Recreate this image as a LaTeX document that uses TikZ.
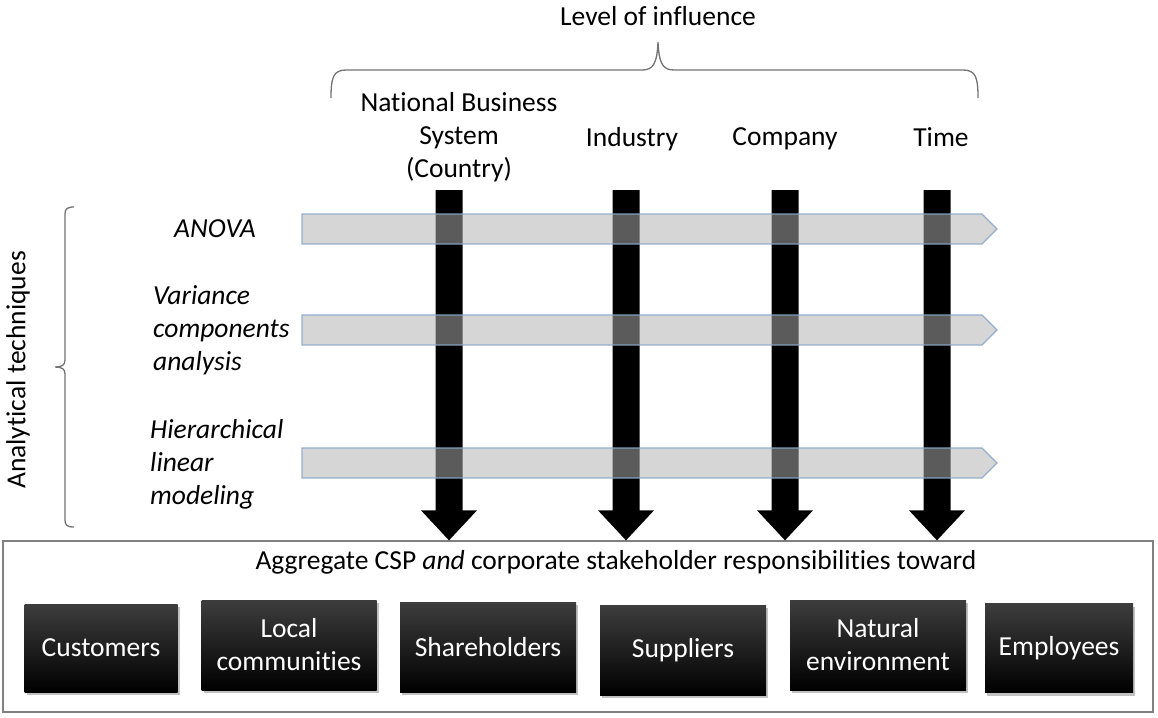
\documentclass[tikz,border=0pt]{standalone}
\usepackage{fontspec}
\setmainfont{Carlito}[Ligatures=NoCommon]
\usetikzlibrary{calc,shadows}
\begin{document}
\begin{tikzpicture}[x=1pt,y=-1pt,
  txt/.style={font=\fontsize{27.5}{33}\selectfont, inner sep=0pt, align=center},
  ital/.style={font=\fontsize{27.5}{33}\selectfont\itshape, inner sep=0pt, align=left},
  bracecol/.style={draw=black!55, line width=1.3pt},
  band/.style={fill={rgb,255:red,176;green,176;blue,176}, fill opacity=0.52,
               draw={rgb,255:red,140;green,168;blue,204}, draw opacity=0.9, line width=1.1pt},
  stake/.style={font=\fontsize{27.5}{33}\selectfont, text=white, align=center, inner sep=0pt,
                top color=black!76, middle color=black, bottom color=black,
                drop shadow={shadow xshift=2pt, shadow yshift=-3pt, fill=black!35, opacity=0.7}},
  outer/.style={draw=black!50, line width=1.3pt}
]
\useasboundingbox (0,0) rectangle (1158,717);

% top title and brace
\node[txt] (level) at (658,16) {Level of influence};
\draw[bracecol] (331,98) .. controls (331,78) and (333,70) .. (346,70) -- (642,70)
  .. controls (653,70) and (657,64) .. (658,42)
  .. controls (659,64) and (663,70) .. (674,70) -- (963,70)
  .. controls (976,70) and (978,78) .. (978,98);

% column labels
\node[txt] (nbs) at (459,137) {National Business\\System\\(Country)};
\node[txt] (ind) at (632,139) {Industry};
\node[txt] (com) at (785,139) {Company};
\node[txt] (tim) at (941,137) {Time};

% left brace and label
\node[txt, rotate=90] (anal) at (18,370) {Analytical techniques};
\draw[bracecol] (74,207) .. controls (67,207) and (65,209) .. (65,214) -- (65,360)
  .. controls (65,365) and (62,367) .. (55,367)
  .. controls (62,367) and (65,369) .. (65,374) -- (65,520)
  .. controls (65,525) and (67,527) .. (74,527);

% technique labels
\node[ital] (anova) at (215,229) {ANOVA};
\node[ital, anchor=west] (vca) at (153,330) {Variance\\components\\analysis};
\node[ital, anchor=west] (hlm) at (150,464) {Hierarchical\\linear\\modeling};

% bottom box
\node[outer, minimum width=1150, minimum height=171, inner sep=0pt] (bigbox) at (578,626.5) {};
\node[txt] (agg) at (616,562) {Aggregate CSP \textit{and} corporate stakeholder responsibilities toward};

% stakeholder boxes
\node[stake, minimum width=153, minimum height=88] (cust) at (101,648) {Customers};
\node[stake, minimum width=175, minimum height=90] (loc)  at (289,645) {Local\\communities};
\node[stake, minimum width=176, minimum height=90] (sha)  at (488,647) {Shareholders};
\node[stake, minimum width=166, minimum height=90] (sup)  at (683,650) {Suppliers};
\node[stake, minimum width=176, minimum height=90] (nat)  at (878,645) {Natural\\environment};
\node[stake, minimum width=148, minimum height=89] (emp)  at (1059,648) {Employees};

% vertical arrows
\coordinate (s1) at (449,190);
\coordinate (s2) at (626,190);
\coordinate (s3) at (785,190);
\coordinate (s4) at (937,190);
\foreach \n in {1,2,3,4}{
  \coordinate (t\n) at (bigbox.north -| s\n);
  \fill[black] ($(s\n)+(-13.5,0)$) -- ($(t\n)+(-13.5,-30)$) -- ($(t\n)+(-28,-30)$) -- (t\n)
    -- ($(t\n)+(28,-30)$) -- ($(t\n)+(13.5,-30)$) -- ($(s\n)+(13.5,0)$) -- cycle;
}

% horizontal bands
\foreach \y in {229,330,463}{
  \draw[band] (302,\y-15) -- (982,\y-15) -- (997,\y) -- (982,\y+15) -- (302,\y+15) -- cycle;
}
\end{tikzpicture}
\end{document}
